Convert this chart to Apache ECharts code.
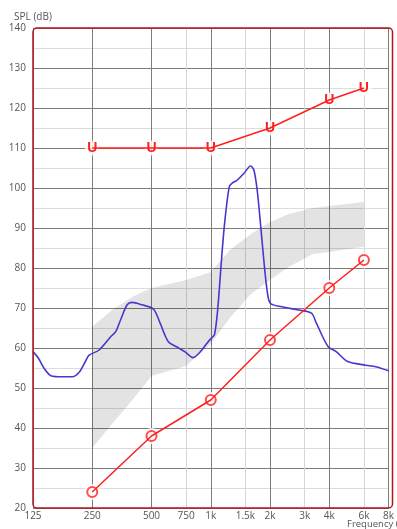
<!DOCTYPE html>
<html><head><meta charset="utf-8">
<script src="https://cdn.jsdelivr.net/npm/echarts@6/dist/echarts.min.js"></script>
<style>html,body{margin:0;padding:0;background:#fff}#c{width:397px;height:529px}</style>
</head><body><div id="c"></div>
<script>
// ---- data ----
const tickFreqs = [125, 250, 500, 750, 1000, 1500, 2000, 3000, 4000, 6000, 8000];
const tickLabels = ['125', '250', '500', '750', '1k', '1.5k', '2k', '3k', '4k', '6k', '8k'];
const majorFreqs = [125, 250, 500, 1000, 2000, 4000, 8000];
const minorFreqs = [750, 1500, 3000, 6000];

const spectrumFreq = [125, 133, 142, 155, 175, 198, 215, 230, 241, 271, 310, 329, 348, 376, 398, 447, 512, 553, 608, 670, 738, 812, 894, 950, 1004, 1044, 1084, 1127, 1171, 1241, 1289, 1366, 1476, 1593, 1656, 1721, 1788, 1860, 1932, 2007, 2297, 2800, 3249, 3439, 3950, 4337, 4967, 6133, 6885, 8000];
const spectrumDb   = [59.1, 57.5, 55, 53, 52.8, 52.8, 54, 56.5, 58.2, 59.5, 62.8, 64.1, 67, 70.8, 71.4, 70.8, 69.7, 66.2, 61.6, 60.3, 59.1, 57.6, 59.3, 61, 62.4, 63.3, 69.5, 80.3, 90.3, 100.3, 101.3, 102, 103.7, 105.5, 104.5, 99.5, 91.2, 82, 74.5, 71.2, 70.3, 69.5, 68.7, 66.2, 60.3, 59.1, 56.6, 55.7, 55.3, 54.3];

const bandFreq  = [250, 315, 400, 500, 750, 1000, 1250, 1600, 2000, 2500, 3300, 4000, 6000];
const bandLow   = [35, 41, 47, 53, 55.5, 61, 67.5, 73.5, 77, 80.3, 83.5, 84, 85.3];
const bandHigh  = [65.3, 69.5, 72.8, 75, 77, 79, 84.5, 88.5, 91.5, 93.5, 95, 95.5, 96.5];

const oFreq = [250, 500, 1000, 2000, 4000, 6000];
const oDb   = [24, 38, 47, 62, 75, 82];

const uFreq = [250, 500, 1000, 2000, 4000, 6000];
const uDb   = [110, 110, 110, 115, 122, 125];

// ---- chart ----
const oct = f => Math.log2(f / 125);
const pts = (fs, vs) => fs.map((f, i) => [oct(f), vs[i]]);
const RED = '#ff1f1f';
const FONT = 'Open Sans';
const G = {left: 33, right: 3, top: 28, bottom: 21};

const chart = echarts.init(document.getElementById('c'));
const axisX = (extra) => Object.assign({
  type: 'value', min: 0, max: 6,
  axisLine: {show: false},
  axisTick: {show: false},
}, extra);

chart.setOption({
  animation: false,
  textStyle: {fontFamily: FONT},
  grid: Object.assign({containLabel: false}, G),
  xAxis: [
    axisX({
      axisTick: {show: false, customValues: majorFreqs.map(oct)},
      splitLine: {show: true, lineStyle: {color: '#7c7c7c', width: 1}},
      axisLabel: {
        customValues: tickFreqs.map(oct), color: '#555', fontSize: 10, margin: 3,
        formatter: v => { const i = tickFreqs.findIndex(f => Math.abs(oct(f) - v) < 1e-6); return i >= 0 ? tickLabels[i] : ''; }
      }
    }),
    axisX({
      axisTick: {show: false, customValues: minorFreqs.map(oct)},
      splitLine: {show: true, lineStyle: {color: '#d6d6d6', width: 1}},
      axisLabel: {show: false}
    })
  ],
  yAxis: {
    type: 'value', min: 20, max: 140, interval: 10,
    name: 'SPL (dB)', nameLocation: 'end', nameGap: 6,
    nameTextStyle: {color: '#555', fontSize: 10},
    axisLine: {show: false}, axisTick: {show: false},
    axisLabel: {color: '#555', fontSize: 10, margin: 7},
    splitLine: {show: true, lineStyle: {color: '#7c7c7c', width: 1}},
    minorTick: {show: false, splitNumber: 2},
    minorSplitLine: {show: true, lineStyle: {color: '#dcdcdc', width: 1}}
  },
  graphic: [
    {type: 'rect', z: 100, silent: true,
     shape: {x: G.left, y: G.top, width: 397 - G.left - G.right - 1.5, height: 529 - G.top - G.bottom, r: 4},
     style: {fill: 'none', stroke: '#b0161c', lineWidth: 1.5}},
    {type: 'text', left: 347, top: 519, z: 100,
     style: {text: 'Frequency (Hz)', fill: '#555', fontSize: 9.5, fontFamily: FONT}}
  ],
  series: [
    {type: 'custom', silent: true, data: pts(bandFreq, bandHigh),
     encode: {x: 0, y: 1},
     renderItem: (params, api) => {
       if (params.dataIndex !== 0) return;
       const up = bandFreq.map((f, i) => api.coord([oct(f), bandHigh[i]]));
       const lo = bandFreq.map((f, i) => api.coord([oct(f), bandLow[i]])).reverse();
       return {type: 'polygon', shape: {points: up.concat(lo)},
               style: {fill: 'rgba(0,0,0,0.11)'}};
     }},
    {type: 'line', data: pts(spectrumFreq, spectrumDb), symbol: 'none', smooth: 0.3,
     lineStyle: {color: '#4538cf', width: 1.6}},
    {type: 'line', data: pts(oFreq, oDb), symbol: 'none', lineStyle: {color: RED, width: 1.5}},
    {type: 'scatter', data: pts(oFreq, oDb), symbol: 'circle', symbolSize: 16, itemStyle: {color: '#fff'}},
    {type: 'scatter', data: pts(oFreq, oDb), symbol: 'circle', symbolSize: 10,
     itemStyle: {color: '#fff', borderColor: RED, borderWidth: 2}},
    {type: 'line', data: pts(uFreq, uDb), symbol: 'none', lineStyle: {color: RED, width: 1.5}},
    {type: 'scatter', data: pts(uFreq, uDb), symbol: 'circle', symbolSize: 15, itemStyle: {color: '#fff'},
     label: {show: true, position: 'inside', formatter: 'U', color: RED, fontSize: 14, fontWeight: 'bold',
             fontFamily: 'Liberation Sans', textBorderWidth: 0, opacity: 1}}
  ]
});
</script></body></html>
